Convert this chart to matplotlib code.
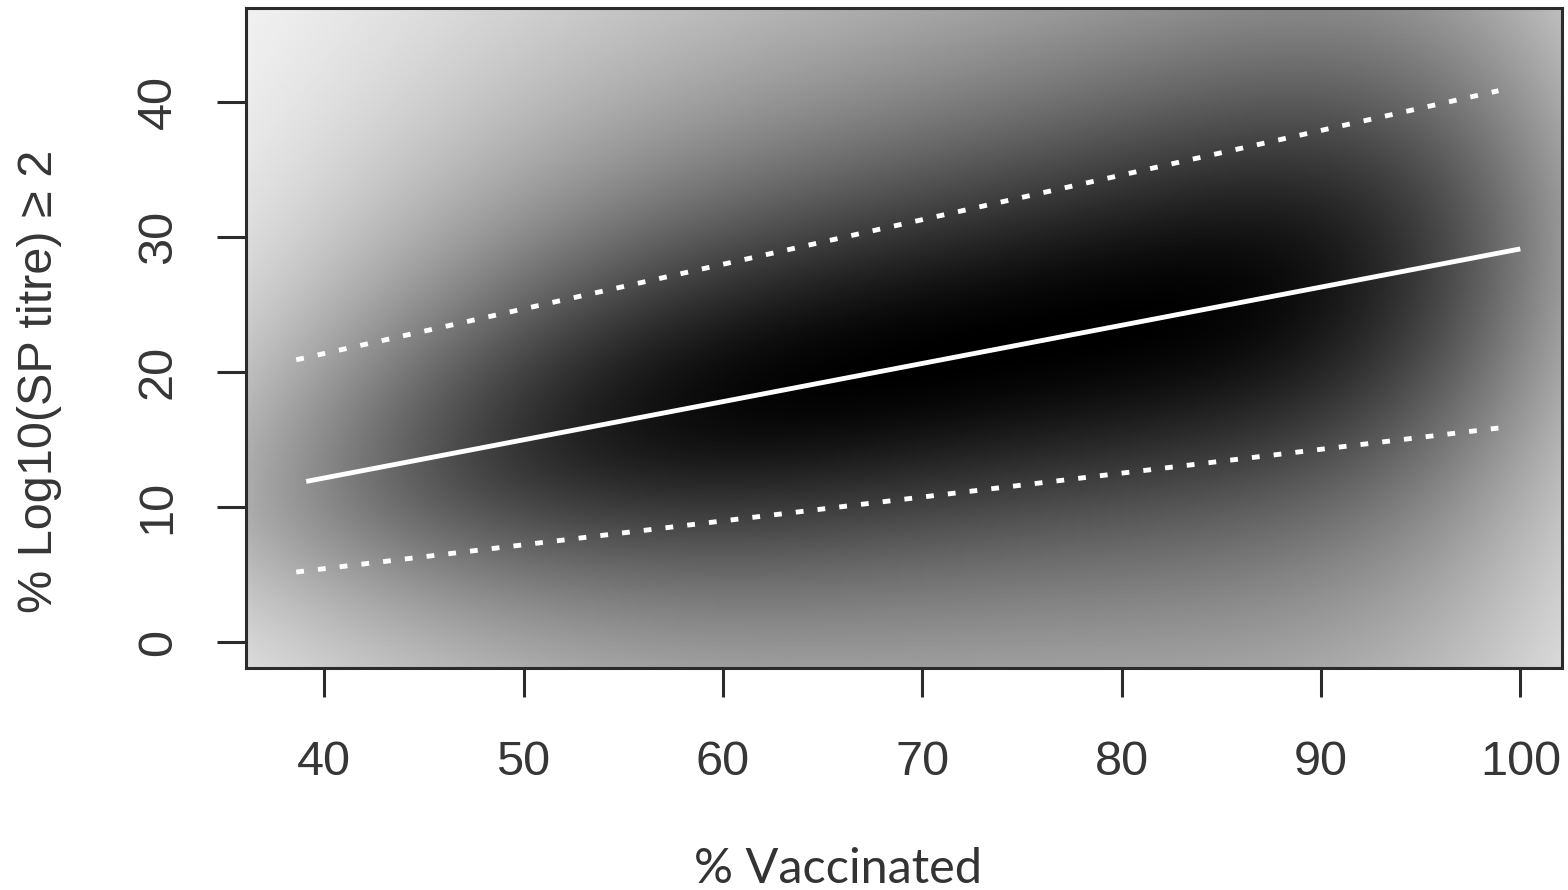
import numpy as np
import matplotlib
matplotlib.use('Agg')
from matplotlib import pyplot as plt

# fitted line and its interval
vacc_fit = [39.1, 100.0]
fit = [11.9, 29.1]
vacc_ci = [38.6, 98.9]
ci_upper = [20.9, 40.8]
ci_lower = [5.2, 15.85]

xticks = [40, 50, 60, 70, 80, 90, 100]
yticks = [0, 10, 20, 30, 40]
xlim = (36.08, 102.09)
ylim = (-1.9, 46.92)

txtcol = '#363636'

fig = plt.figure(figsize=(15.68, 8.9), dpi=100)
ax = fig.add_axes([246/1568, 1-668/890, (1562-246)/1568, (668-8)/890])

#background shading: density around the fitted line, spread follows the interval
gx = np.linspace(xlim[0], xlim[1], 500)
gy = np.linspace(ylim[0], ylim[1], 400)
X, Y = np.meshgrid(gx, gy)
mid = np.polyval(np.polyfit(vacc_fit, fit, 1), X)
up = np.polyval(np.polyfit(vacc_ci, ci_upper, 1), X)
lo = np.polyval(np.polyfit(vacc_ci, ci_lower, 1), X)
dy = Y - mid
c = np.where(dy > 0, 1.8*(up-mid), 1.8*(mid-lo))
xc = 75.
dx = X - xc
peak = np.where(dx < 0, np.exp(-0.5*np.abs(dx/31.2)**3.6), np.exp(-0.5*np.abs(dx/23.5)**4))
shade = np.clip(1-peak/(1+(dy/c)**2), 0, 1)
ax.imshow(shade, extent=[xlim[0], xlim[1], ylim[0], ylim[1]], origin='lower',
          cmap='gray', vmin=0, vmax=1, aspect='auto', interpolation='bilinear')

ax.plot(vacc_fit, fit, color='white', lw=3.5, solid_capstyle='butt')
ax.plot(vacc_ci, ci_upper, color='white', lw=3.5, linestyle=(0, (1.6, 2.9)), dash_capstyle='butt')
ax.plot(vacc_ci, ci_lower, color='white', lw=3.5, linestyle=(0, (1.6, 2.9)), dash_capstyle='butt')

ax.set_xlim(xlim)
ax.set_ylim(ylim)
ax.set_xticks(xticks)
ax.set_yticks(yticks)
for s in ax.spines.values():
    s.set_color('#2b2b2b')
    s.set_linewidth(2.2)
ax.tick_params(length=21, width=2.2, color='#2b2b2b', labelsize=35, labelcolor=txtcol)
ax.tick_params(axis='x', pad=31)
ax.tick_params(axis='y', pad=26, labelrotation=90)
for lab in ax.get_xticklabels()+ax.get_yticklabels():
    lab.set_family('Liberation Sans')
for lab in ax.get_yticklabels():
    lab.set_va('center')

fig.text(40/1568, 1-381/890, '% Log10(SP titre) \u2265 2', rotation=90, ha='center', va='center',
         fontsize=35, color=txtcol, family=['Liberation Sans', 'DejaVu Sans'])
fig.text(838/1568, 1-869/890, '% Vaccinated', ha='center', va='center',
         fontsize=35, color='#333333', family='Lato')

fig.savefig('out.png', dpi=100)
